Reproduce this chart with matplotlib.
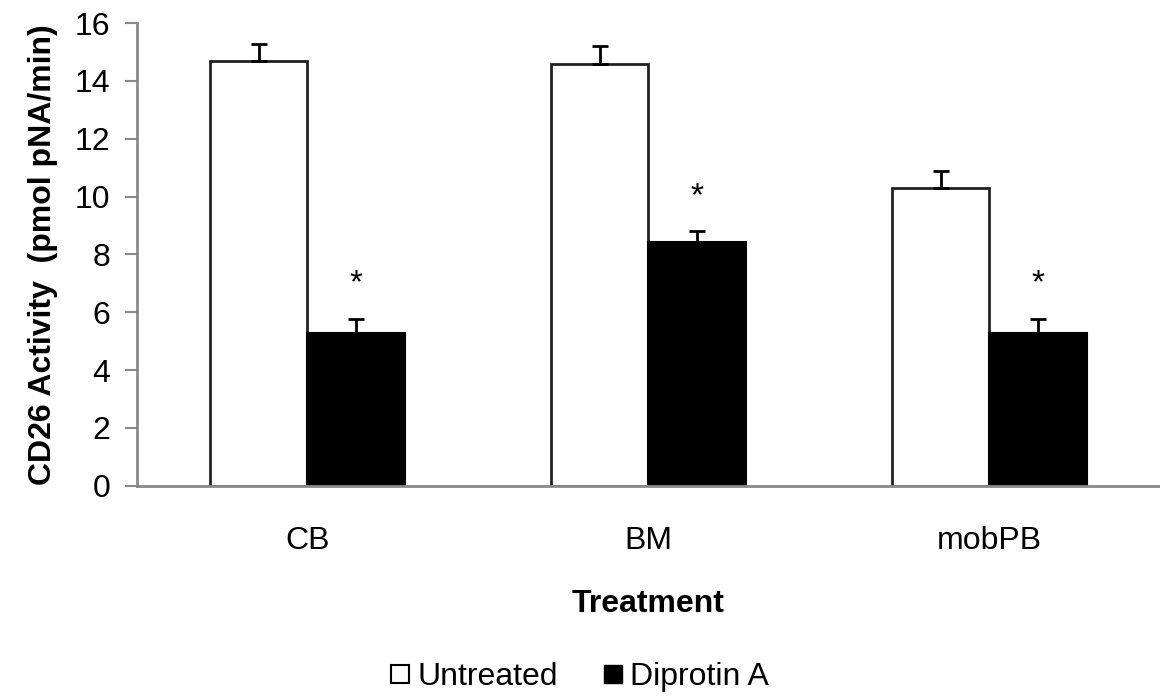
import numpy as np
import matplotlib.pyplot as plt
from matplotlib.lines import Line2D

plt.rcParams['font.family'] = ['Liberation Sans', 'DejaVu Sans']

groups = ['CB', 'BM', 'mobPB']
untreated = [14.68, 14.6, 10.31]
untreated_err = [0.58, 0.6, 0.59]
diprotin = [5.3, 8.44, 5.3]
diprotin_err = [0.47, 0.37, 0.47]
star_y = [7.0, 10.0, 7.0]

fig = plt.figure(figsize=(11.6, 6.98), dpi=100)
ax = fig.add_axes([0.118, 0.304, 0.882, 0.663])

x = np.arange(len(groups))
w = 0.286
ax.bar(x - w / 2, untreated, w, color='white', edgecolor='#222222', linewidth=2, zorder=2)
ax.bar(x + w / 2, diprotin, w, color='black', edgecolor='black', linewidth=1.5, zorder=2)
ax.errorbar(x - w / 2, untreated, yerr=[np.zeros(3), untreated_err], fmt='none',
            ecolor='black', elinewidth=2, capsize=6, capthick=2, zorder=3)
ax.errorbar(x + w / 2, diprotin, yerr=[np.zeros(3), diprotin_err], fmt='none',
            ecolor='black', elinewidth=2, capsize=6, capthick=2, zorder=3)
for xi, yi in zip(x + w / 2, star_y):
    ax.text(xi, yi, '*', ha='center', va='center', fontsize=24)

ax.set_xlim(-0.5, 2.5)
ax.set_ylim(0, 16)
ax.set_yticks(range(0, 17, 2))
ax.set_xticks(x)
ax.set_xticklabels(groups)
ax.tick_params(axis='x', length=0, pad=29, labelsize=23)
ax.tick_params(axis='y', length=9, width=1.5, color='#8a8a8a', pad=10, labelsize=23)
for s in ['top', 'right']:
    ax.spines[s].set_visible(False)
for s in ['left', 'bottom']:
    ax.spines[s].set_color('#8a8a8a')
    ax.spines[s].set_linewidth(2)
ax.spines['bottom'].set_zorder(4)

ax.set_ylabel('CD26 Activity  (pmol pNA/min)', fontsize=23, fontweight='bold', labelpad=12)
ax.set_xlabel('Treatment', fontsize=23, fontweight='bold', labelpad=24)

handles = [
    Line2D([], [], marker='s', linestyle='none', markersize=13, markerfacecolor='white',
           markeredgecolor='black', markeredgewidth=1.5),
    Line2D([], [], marker='s', linestyle='none', markersize=13, markerfacecolor='black',
           markeredgecolor='black'),
]
fig.legend(handles, ['Untreated', 'Diprotin A'], loc='center', bbox_to_anchor=(0.5, 0.03),
           ncol=2, frameon=False, fontsize=23, handletextpad=0.25, columnspacing=1.4,
           handlelength=0.6)

fig.savefig('out.png', dpi=100)
